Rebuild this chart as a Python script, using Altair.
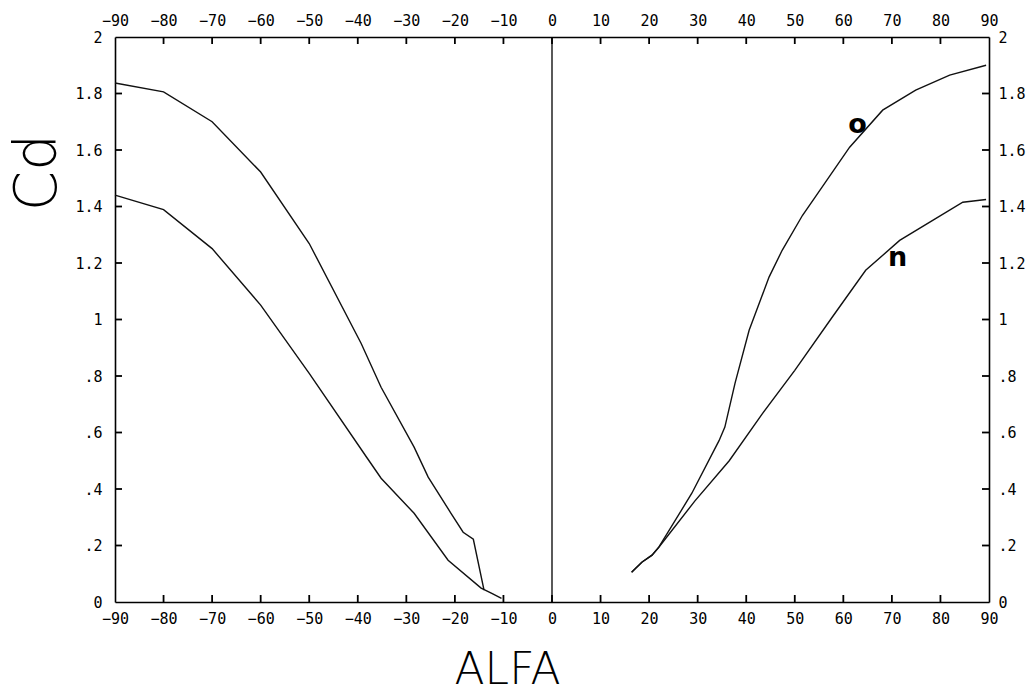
import altair as alt
import pandas as pd

# ---- data ----
o_left_alfa = [-90, -80, -70, -60, -50, -39.3, -35.2, -28.4, -25.5, -20.8, -18.3, -16.2, -14.0]
o_left_cd = [1.837, 1.806, 1.70, 1.522, 1.269, 0.915, 0.760, 0.548, 0.442, 0.314, 0.247, 0.222, 0.042]

n_left_alfa = [-90, -80, -70, -60, -50, -38.0, -35.2, -28.4, -21.4, -14.6, -12.5, -10.4]
n_left_cd = [1.44, 1.389, 1.251, 1.051, 0.809, 0.508, 0.438, 0.314, 0.148, 0.049, 0.031, 0.013]

o_right_alfa = [16.4, 18.5, 20.6, 22.0, 28.8, 34.4, 35.6, 37.7, 40.6, 44.7, 47.4, 51.6, 54.2,
                61.3, 68.1, 74.9, 81.9, 89.4]
o_right_cd = [0.105, 0.141, 0.166, 0.194, 0.385, 0.571, 0.619, 0.775, 0.962, 1.15, 1.245, 1.369,
              1.433, 1.61, 1.741, 1.812, 1.865, 1.90]

n_right_alfa = [16.4, 18.5, 20.6, 22.0, 29.4, 36.5, 43.3, 50.0, 57.7, 64.6, 71.6, 78.4, 84.6, 89.4]
n_right_cd = [0.105, 0.141, 0.166, 0.194, 0.357, 0.50, 0.666, 0.82, 1.008, 1.174, 1.280, 1.351,
              1.415, 1.425]

label_text = ["o", "n"]
label_alfa = [62.9, 71.2]
label_cd = [1.688, 1.217]

x_ticks = list(range(-90, 91, 10))
y_ticks = [0, 0.2, 0.4, 0.6, 0.8, 1, 1.2, 1.4, 1.6, 1.8, 2]

zero_alfa = [0]
zero_from = [0]
zero_to = [2]

# ---- build tables ----
rows = []
for name, xs_, ys_ in [("o_left", o_left_alfa, o_left_cd), ("n_left", n_left_alfa, n_left_cd),
                       ("o_right", o_right_alfa, o_right_cd), ("n_right", n_right_alfa, n_right_cd)]:
    for i, (a, c) in enumerate(zip(xs_, ys_)):
        rows.append({"curve": name, "i": i, "v": a, "cd": c})
curves = pd.DataFrame(rows)
labels = pd.DataFrame({"t": label_text, "v": label_alfa, "cd": label_cd})
zero = pd.DataFrame({"v": zero_alfa, "cd": zero_from, "cd2": zero_to})
xt = pd.DataFrame({"v": [float(t) for t in x_ticks[1:-1]]})
yt = pd.DataFrame({"cd": [float(t) for t in y_ticks[1:-1]]})

W, H = 874, 565
TICK = 7
LABEL_FONT = "DejaVu Sans Mono"
TITLE_FONT = "DejaVu Sans"
yexpr = ("datum.value == 0 ? '0' : (datum.value >= 1 ? "
         "(abs(datum.value - round(datum.value)) < 0.001 ? format(datum.value, 'd') : format(datum.value, '.1f'))"
         " : '.' + format(datum.value * 10, 'd'))")

xs = alt.Scale(domain=[-90, 90], nice=False, zero=False)
ys = alt.Scale(domain=[0, 2], nice=False, zero=False)

common = dict(labelFlush=False, labelFont=LABEL_FONT, labelFontSize=15, grid=False,
              labelColor="black", domainColor="black", domainWidth=1.6, ticks=False)

x_bottom = alt.Axis(orient="bottom", values=x_ticks, labelPadding=9,
                    title="ALFA", titleFont=TITLE_FONT, titleFontSize=44, titleFontWeight=200,
                    titleColor="black", titleX=392, titleY=68, titleBaseline="middle",
                    titleAlign="center", **common)
y_left = alt.Axis(orient="left", values=y_ticks, labelPadding=13, labelExpr=yexpr,
                  title="Cd", titleFont=TITLE_FONT, titleFontSize=58,
                  titleFontWeight=200, titleColor="black", titleX=-77, titleY=135,
                  titleAngle=270, titleBaseline="middle", titleAlign="center", **common)
x_top = alt.Axis(orient="top", values=x_ticks, labelPadding=9, title=None, **common)
y_right = alt.Axis(orient="right", values=y_ticks, labelPadding=9, labelExpr=yexpr,
                   title=None, **common)

lines = alt.Chart(curves).mark_line(color="#111111", strokeWidth=1.4).encode(
    x=alt.X("v:Q", scale=xs, axis=x_bottom),
    y=alt.Y("cd:Q", scale=ys, axis=y_left),
    detail="curve:N",
    order="i:Q",
)

zero_line = alt.Chart(zero).mark_rule(color="black", strokeWidth=1.3).encode(
    x=alt.X("v:Q", scale=xs, axis=x_top),
    y=alt.Y("cd:Q", scale=ys, axis=y_right),
    y2="cd2:Q",
)

text = alt.Chart(labels).mark_text(font=TITLE_FONT, fontSize=27, fontWeight="bold",
                                   color="black").encode(
    x=alt.X("v:Q", scale=xs, axis=None),
    y=alt.Y("cd:Q", scale=ys, axis=None),
    text="t:N",
)

# inward tick marks on all four sides
tick_style = dict(color="black", strokeWidth=1.8)
ticks_bottom = alt.Chart(xt).mark_rule(**tick_style).encode(
    x=alt.X("v:Q", scale=xs, axis=None), y=alt.value(H), y2=alt.value(H - TICK))
ticks_top = alt.Chart(xt).mark_rule(**tick_style).encode(
    x=alt.X("v:Q", scale=xs, axis=None), y=alt.value(0), y2=alt.value(TICK))
ticks_left = alt.Chart(yt).mark_rule(**tick_style).encode(
    y=alt.Y("cd:Q", scale=ys, axis=None), x=alt.value(0), x2=alt.value(TICK))
ticks_right = alt.Chart(yt).mark_rule(**tick_style).encode(
    y=alt.Y("cd:Q", scale=ys, axis=None), x=alt.value(W), x2=alt.value(W - TICK))

chart = alt.layer(lines, zero_line, text, ticks_bottom, ticks_top, ticks_left, ticks_right
).resolve_axis(
    x="independent", y="independent"
).properties(
    width=W, height=H,
    autosize=alt.AutoSizeParams(type="none"),
    padding={"left": 115, "top": 37, "right": 43, "bottom": 91},
    background="white",
).configure_view(stroke=None)

chart.save("out.html", embed_options={"renderer": "svg", "actions": False})
